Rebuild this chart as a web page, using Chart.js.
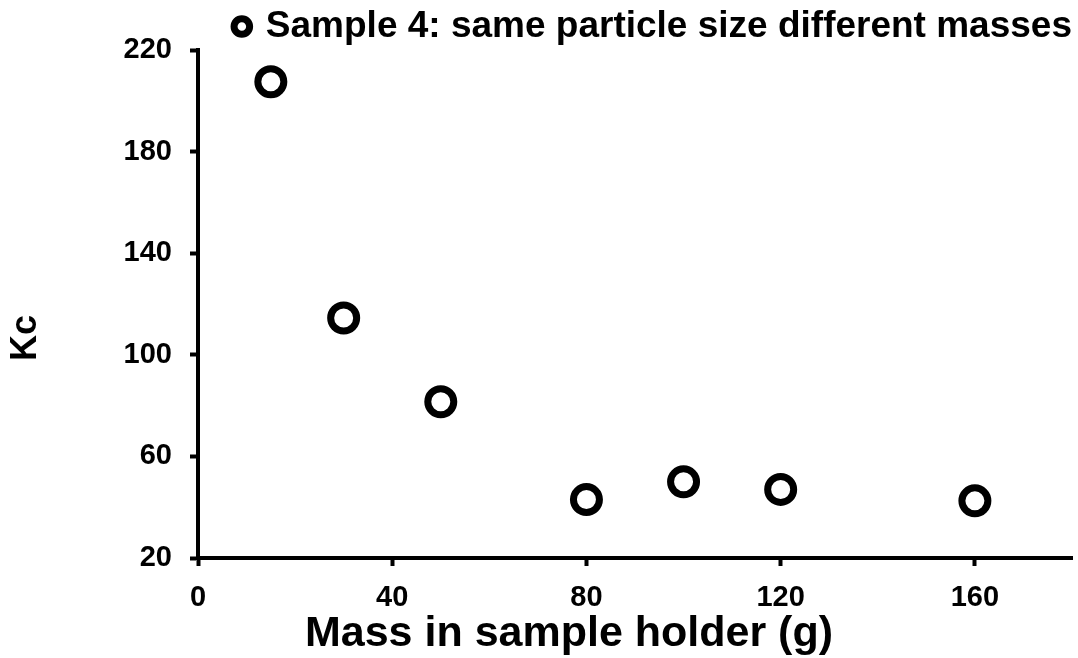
<!DOCTYPE html>
<html lang="en">
<head>
<meta charset="UTF-8">
<title>Sample 4: same particle size different masses</title>
<script src="https://cdn.jsdelivr.net/npm/chart.js"></script>
<style>
  body { margin: 0; background: #fff; }
  #wrap { width: 1078px; height: 658px; }
</style>
</head>
<body>
<div id="wrap"><canvas id="kc-chart" width="1078" height="658"></canvas></div>
<script>
// data
var seriesName = 'Sample 4: same particle size different masses';
var massG = [15, 30, 50, 80, 100, 120, 160];
var kcValues = [207.5, 114.5, 81.5, 43, 50, 47, 42.5];
var xTicks = [0, 40, 80, 120, 160];
var yTicks = [20, 60, 100, 140, 180, 220];
var xTitle = 'Mass in sample holder (g)';
var yTitle = 'Kc';

var font = 'Arial, "Liberation Sans", sans-serif';

var points = massG.map(function(m, i) {
    return { x: m, y: kcValues[i] };
});

// big markers would otherwise push the plot area in from the right edge
Chart.registry.getController('scatter').prototype.getMaxOverflow = function() { return 0; };

// legend sits a little into the plot's top margin, like the original
var tightLegend = {
    id: 'tightLegend',
    afterInit: function(chart) {
        var lg = chart.legend;
        var fit = lg.fit;
        lg.fit = function() {
            fit.call(this);
            this.height -= 5;
        };
    }
};

// axis titles are placed like the original (not centred on the plot area)
var axisTitles = {
    id: 'axisTitles',
    afterDraw: function(chart) {
        var ctx = chart.ctx;
        ctx.save();
        ctx.fillStyle = '#000';
        ctx.textAlign = 'center';
        ctx.textBaseline = 'middle';
        ctx.font = 'bold 43px ' + font;
        ctx.fillText(xTitle, 569, 634);
        ctx.font = 'bold 36px ' + font;
        ctx.translate(26, 338);
        ctx.rotate(-Math.PI / 2);
        ctx.fillText(yTitle, 0, 0);
        ctx.restore();
    }
};

var ctx = document.getElementById('kc-chart').getContext('2d');
var chart = new Chart(ctx, {
    type: 'scatter',
    data: {
        datasets: [{
            label: seriesName,
            data: points,
            pointStyle: 'circle',
            pointRadius: 13,
            pointHoverRadius: 13,
            borderWidth: 7,
            pointBorderWidth: 7,
            borderColor: '#000',
            backgroundColor: '#fff',
            pointBackgroundColor: '#fff'
        }]
    },
    options: {
        responsive: false,
        animation: false,
        layout: { padding: { left: 0, right: 6, top: 8, bottom: 0 } },
        plugins: {
            tooltip: { enabled: false },
            legend: {
                position: 'top',
                align: 'end',
                labels: {
                    usePointStyle: true,
                    boxHeight: 11,
                    boxWidth: 11,
                    color: '#000',
                    padding: 0,
                    font: { family: font, size: 37, weight: 'bold' }
                }
            }
        },
        scales: {
            x: {
                type: 'linear',
                min: 0,
                max: 180,
                afterBuildTicks: function(scale) {
                    scale.ticks = xTicks.map(function(v) { return { value: v }; });
                },
                afterFit: function(scale) { scale.height = 100; },
                border: { display: true, color: '#000', width: 4 },
                grid: { drawOnChartArea: false, drawTicks: true, tickLength: 8, tickWidth: 4, tickColor: '#000' },
                ticks: {
                    color: '#000',
                    padding: 15,
                    maxRotation: 0,
                    font: { family: font, size: 29, weight: 'bold' }
                }
            },
            y: {
                min: 20,
                max: 220,
                afterBuildTicks: function(scale) {
                    scale.ticks = yTicks.map(function(v) { return { value: v }; });
                },
                afterFit: function(scale) { scale.width = 198; },
                border: { display: true, color: '#000', width: 4 },
                grid: { drawOnChartArea: false, drawTicks: true, tickLength: 8, tickWidth: 4, tickColor: '#000' },
                ticks: {
                    color: '#000',
                    padding: 18,
                    font: { family: font, size: 29, weight: 'bold' }
                }
            }
        }
    },
    plugins: [tightLegend, axisTitles]
});
</script>
</body>
</html>
